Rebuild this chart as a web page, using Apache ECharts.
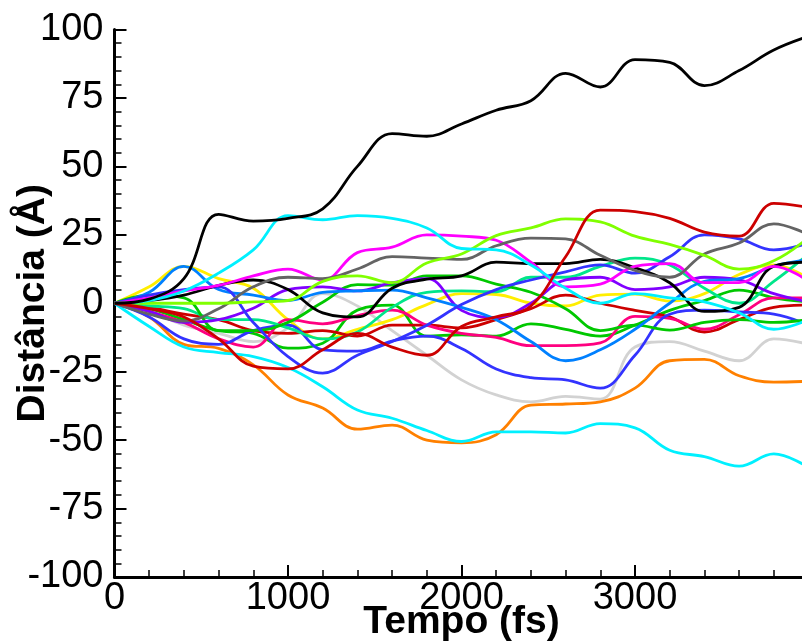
<!DOCTYPE html>
<html>
<head>
<meta charset="utf-8">
<script src="https://cdn.jsdelivr.net/npm/echarts@6/dist/echarts.min.js"></script>
<style>
html,body{margin:0;padding:0;background:#fff;}
#chart{width:802px;height:641px;}
</style>
</head>
<body>
<div id="chart"></div>
<script>
// time axis (fs)
var times = [0,200,400,600,800,1000,1200,1400,1600,1800,2000,2200,2400,2600,2800,3000,3200,3400,3600,3800,4000];
var xTicks = [0,1000,2000,3000];
var yTicks = [-100,-75,-50,-25,0,25,50,75,100];

// distance series (Å)
var blackTop = [0,1.5,9,32.5,30,31,34.5,50,62,61,65.5,70.5,74,84,79,89,88,79.5,85,92.5,97.5];
var cyanUp   = [0,1,4.5,11,19.5,32,30.5,32,31,27.5,20,19.5,14,5.5,0,3.5,2,0.5,-3.5,-9.5,-6];
var cyanLow  = [0,-8.5,-16,-18,-19.5,-23.5,-30.5,-39,-42,-46.5,-50.5,-47,-47,-47.4,-44,-45.5,-53.7,-56,-59.5,-55,-60];
var orange   = [0,-5,-15,-16.5,-22.5,-33.5,-38.3,-46,-44.5,-50,-51,-48,-37.2,-36.8,-36,-31,-21,-20.5,-26.5,-28.8,-28.5];
var lightGray= [0,-3,-8,-11,-14,-9,3.5,-1,-10,-19,-28,-33.5,-36,-34,-35,-16,-14,-17.5,-21,-13,-15];
var redMain  = [0,-2,-5,-13,-23,-24,-17,-11,-16,-19,-8.5,-5,-1,17,34,33.5,31,26,24.5,36.5,35];
var darkGray = [0,-4,-6.5,-2,6,9.5,9,12.5,17,16.5,16,21,23.8,23.5,17.5,12,9.5,18,22,29,25];
var lime     = [0,0,0,0,0.5,1,8,10,7.5,14.7,18,24.7,27.5,30.8,29.7,24.5,21.5,17.5,12.5,15.5,24];
var magenta  = [0,2,4.5,6.5,10,12.5,8.5,18.5,20.5,25,24.5,23,15,6,7,13.5,14.5,7.5,7.5,13.5,8];
var black2   = [0,1,3,6.5,8.5,5,-3.5,-5,5.5,8.8,10,15,14.5,14.5,16,13,7.5,-3,-1.5,13.5,15];
var blue1    = [0,3,5,6,-7,-19.5,-25.5,-19,-14,-8,-0.5,5,8.5,11.5,14,11,17,25,23.5,19.5,22];
var blue2    = [0,-5,-13,-15,-10,-8,-17,-17.5,-13.8,-12,-16.5,-24,-27.2,-28,-31,-19,-4,-2.5,-3.2,-4,-8];
var dodger   = [0,4,13.5,5,3,1,4,4.5,4.8,2,-1.5,-6,-14,-21,-17,-9.5,0,8,9,13.5,16];
var yellow   = [0,6,13.5,9,5.5,-6,-13,-9.5,-6,-0.5,3.5,3.2,0,-1,3,3.3,0.8,3.5,10.5,14,9];
var mint     = [0,-1,-2,-6,-6,-9,-13,-10.5,-1.5,4,4.5,4.2,9.5,9.5,13.5,16.5,14,5.5,0,8,18];
var purple   = [0,-3,-7,-6,-1.8,5,6,4.5,7.5,9,-2.6,-5.2,0,8.5,9.5,5,6,9.5,8.5,3.5,0.5];
var greenA   = [0,3,2,-10,-10,-7,0.4,6.8,6.6,10,10,7,4,-2,-10,-8,-9.8,-7,-6,-7,-6];
var greenB   = [0,-2,-6,-10,-11,-16.4,-14.6,-2.5,-0.7,-12,-11.5,-12,-7.5,-9.5,-12,-8,-2.6,1,4.8,2,0.5];
var pink     = [0,-3,-7,-13,-16,-6,-7.5,-4.5,-2.5,-8,-11,-12.5,-15.5,-15.5,-14.5,-4.8,-5.5,-9.5,-4.2,2,2];
var red2     = [0,-1.5,-4,-6,-10,-11,-10,-12,-8,-8,-9,-6,-2,3,0,-2.6,-5,-10.5,-6,-1.5,-0.7];

var lines = [
  {v: lightGray, c:'#d2d2d2'},
  {v: orange,    c:'#ff8000'},
  {v: cyanLow,   c:'#00f0ff'},
  {v: yellow,    c:'#ffee00'},
  {v: greenB,    c:'#00c800'},
  {v: red2,      c:'#cc0000'},
  {v: pink,      c:'#ff0080'},
  {v: blue2,     c:'#3333ff'},
  {v: mint,      c:'#00e68a'},
  {v: greenA,    c:'#00c800'},
  {v: purple,    c:'#8000ff'},
  {v: dodger,    c:'#0080ff'},
  {v: blue1,     c:'#3333ff'},
  {v: black2,    c:'#000000'},
  {v: magenta,   c:'#ff00ff'},
  {v: darkGray,  c:'#646464'},
  {v: lime,      c:'#80ff00'},
  {v: cyanUp,    c:'#00f0ff'},
  {v: redMain,   c:'#cc0000'},
  {v: blackTop,  c:'#000000'}
];

var series = lines.map(function(l){
  return {
    type:'line',
    data: times.map(function(t,i){ return [t, l.v[i]]; }),
    showSymbol:false,
    smooth:0.4,
    lineStyle:{color:l.c, width:2.8},
    itemStyle:{color:l.c},
    z:2
  };
});

var chart = echarts.init(document.getElementById('chart'), null, {renderer:'canvas'});
chart.setOption({
  animation:false,
  backgroundColor:'#fff',
  grid:{left:114.5, top:29.5, bottom:64, right:-6.5, containLabel:false, outerBoundsMode:'none'},
  xAxis:{
    type:'value', min:0, max:4000, interval:1000,
    axisLine:{onZero:false, lineStyle:{color:'#000', width:3}},
    axisTick:{inside:true, length:12, lineStyle:{color:'#000', width:2}},
    minorTick:{show:true, splitNumber:5, length:7, lineStyle:{color:'#000', width:1.5}},
    splitLine:{show:false},
    axisLabel:{color:'#000', fontSize:38, fontFamily:'Liberation Sans', margin:3, showMaxLabel:false,
      formatter:function(v){ return xTicks.indexOf(v)>=0 ? String(v) : ''; }},
    name:'Tempo (fs)', nameLocation:'middle', nameGap:26, nameMoveOverlap:false,
    nameTextStyle:{color:'#000', fontSize:39, fontWeight:'bold', fontFamily:'Liberation Sans'}
  },
  yAxis:{
    type:'value', min:-100, max:100, interval:25,
    axisLine:{show:true, onZero:false, lineStyle:{color:'#000', width:3}},
    axisTick:{show:true, inside:true, length:12, lineStyle:{color:'#000', width:2}},
    minorTick:{show:true, splitNumber:5, length:7, lineStyle:{color:'#000', width:1.5}},
    splitLine:{show:false},
    axisLabel:{color:'#000', fontSize:38, fontFamily:'Liberation Sans', margin:11,
      formatter:function(v){ return yTicks.indexOf(v)>=0 ? String(v) : ''; }},
    name:'Distância (Å)', nameLocation:'middle', nameRotate:90, nameGap:62, nameMoveOverlap:false,
    nameTextStyle:{color:'#000', fontSize:39, fontWeight:'bold', fontFamily:'Liberation Sans'}
  },
  series: series
});
</script>
</body>
</html>
